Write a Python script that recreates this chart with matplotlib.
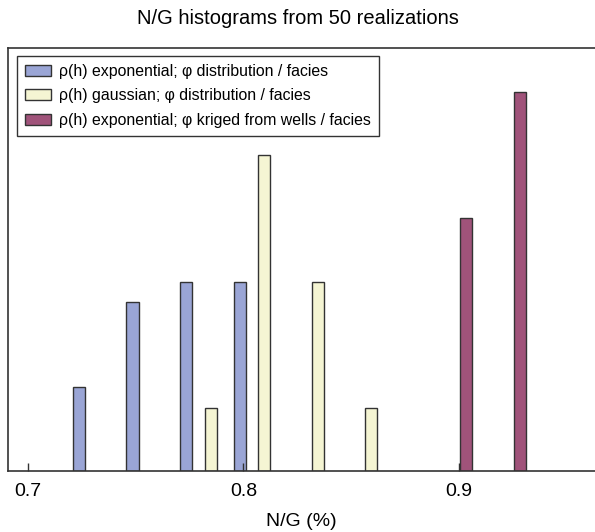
import numpy as np
import matplotlib
matplotlib.use("Agg")
import matplotlib.pyplot as plt

plt.rcParams['font.family'] = ['Liberation Sans', 'DejaVu Sans']

# N/G bin centres and normalised frequencies (50 realizations)
ng_exp = [0.7239, 0.7486, 0.7736, 0.7984]
freq_exp = [0.133, 0.267, 0.30, 0.30]

ng_gauss = [0.7848, 0.8095, 0.8344, 0.8592]
freq_gauss = [0.10, 0.50, 0.30, 0.10]

ng_krig = [0.9033, 0.9282]
freq_krig = [0.40, 0.60]

labels = [
    "ρ(h) exponential; φ distribution / facies",
    "ρ(h) gaussian; φ distribution / facies",
    "ρ(h) exponential; φ kriged from wells / facies",
]
colors = ["#9aa5d5", "#f5f5d3", "#a0537a"]
xticks = [0.7, 0.8, 0.9]

fig = plt.figure(figsize=(5.95, 5.32), dpi=100)
ax = fig.add_axes([8 / 595, 61 / 532, 1 - 8 / 595, 423 / 532])

width = 0.0056
for xs, ys, c, lab in zip([ng_exp, ng_gauss, ng_krig],
                          [freq_exp, freq_gauss, freq_krig], colors, labels):
    ax.bar(xs, ys, width=width, color=c, edgecolor="#333333",
           linewidth=1.0, label=lab)

ax.set_xlim(0.6909, 0.963)
ax.set_ylim(0, 0.67)
ax.set_yticks([])
ax.set_xticks(xticks)
ax.set_xticklabels([f"{t:.1f}" for t in xticks], fontsize=14)
ax.tick_params(axis="x", direction="in", length=6, width=1, pad=9,
               color="#333333")
for s in ["left", "top", "bottom"]:
    ax.spines[s].set_color("#333333")
    ax.spines[s].set_linewidth(1.2)
ax.spines["right"].set_visible(False)

ax.set_xlabel("N/G (%)", fontsize=14, labelpad=9)
fig.text(0.5, 1 - 19 / 532, "N/G histograms from 50 realizations",
         ha="center", va="center", fontsize=14.5)

ax.legend(loc="upper left", bbox_to_anchor=(17 / 595, 1 - 56 / 532),
          bbox_transform=fig.transFigure, borderaxespad=0,
          fancybox=False, framealpha=1, edgecolor="#333333",
          fontsize=11.4, handlelength=1.65, handleheight=0.7,
          labelspacing=0.6, borderpad=0.5, handletextpad=0.5)

fig.savefig("out.png", dpi=100)
